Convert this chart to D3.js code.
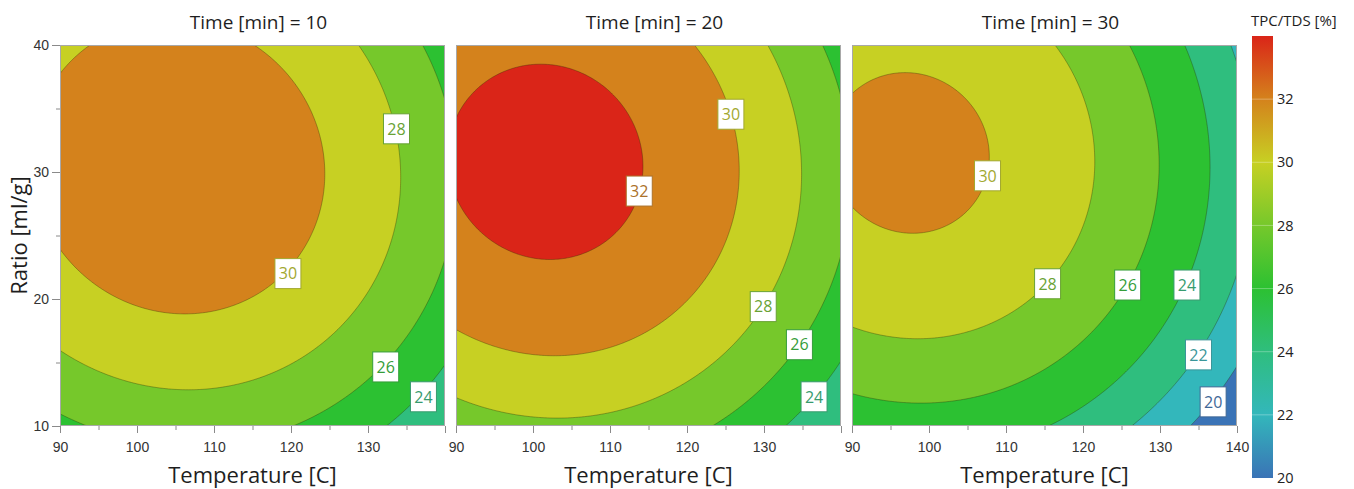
<!DOCTYPE html>
<html><head><meta charset="utf-8">
<script src="https://cdn.jsdelivr.net/npm/d3@7"></script>
<style>
html,body{margin:0;padding:0;background:#fff;}
svg{display:block;font-family:"Open Sans","Noto Sans",sans-serif;}
</style></head><body>
<svg id="chart" width="1354" height="489"></svg>
<script>
// ---------------- data ----------------
const times = [10, 20, 30];
const tempDomain = [90, 140];
const ratioDomain = [10, 40];
const tempTicks = [90, 95, 100, 105, 110, 115, 120, 125, 130, 135, 140];
const ratioTicks = [10, 15, 20, 25, 30, 35, 40];
const contourLevels = [20, 22, 24, 26, 28, 30, 32];
const colorStops = [20, 22, 24, 26, 28, 30, 32, 34];
const colorValues = ["#3a73b6", "#33b7bb", "#2fbe7e", "#2cc132", "#76c82b", "#c7d023", "#d4821c", "#da2518"];
const colorbarTicks = [20, 22, 24, 26, 28, 30, 32];
// fitted response surface (stationary point per time slice + curvature)
const optimumTemp = [105.3, 101.6, 97.4];
const optimumRatio = [30.4, 30.8, 31.5];
const optimumValue = [31.54, 32.68, 30.46];
const curvTT = 0.004235;   // per C^2
const curvRR = 0.011521;   // per (ml/g)^2
const curvTR = 0.000657;   // cross term
// contour labels
const labelLevels = [[28, 30, 26, 24], [30, 32, 28, 26, 24], [30, 28, 26, 24, 22, 20]];
const labelTemp = [[133.7, 119.6, 132.3, 137.2], [125.7, 113.8, 129.9, 134.6, 136.5], [107.6, 115.4, 125.8, 133.5, 135.0, 136.9]];
const labelRatio = [[33.4, 22.0, 14.65, 12.3], [34.55, 28.5, 19.4, 16.4, 12.3], [29.7, 21.2, 21.1, 21.1, 15.6, 11.9]];

// ---------------- layout ----------------
const panelLeft = [60, 456, 852];
const panelW = 385;
const plotTop = 45, plotBottom = 426;

const svg = d3.select("#chart");
const color = d3.scaleLinear().domain(colorStops).range(colorValues).interpolate(d3.interpolateRgb);
const labelColor = L => d3.interpolateRgb(color(L), "#4a4a4a")(0.3);

function surface(p, T, R) {
  const u = T - optimumTemp[p], v = R - optimumRatio[p];
  return optimumValue[p] - (curvTT * u * u + curvTR * u * v + curvRR * v * v);
}

const nx = 280, ny = 220;
const gT0 = tempDomain[0] - 3, gT1 = tempDomain[1] + 3;
const gR0 = ratioDomain[0] - 2, gR1 = ratioDomain[1] + 2;
const dT = (gT1 - gT0) / nx, dR = (gR1 - gR0) / ny;

times.forEach((t, p) => {
  const left = panelLeft[p];
  const xs = d3.scaleLinear().domain(tempDomain).range([left, left + panelW]);
  const ys = d3.scaleLinear().domain(ratioDomain).range([plotBottom, plotTop]);

  const values = new Array(nx * ny);
  for (let j = 0; j < ny; j++) for (let i = 0; i < nx; i++) {
    values[j * nx + i] = surface(p, gT0 + (i + 0.5) * dT, gR0 + (j + 0.5) * dR);
  }
  const contours = d3.contours().size([nx, ny]).thresholds(contourLevels)(values);
  const path = d3.geoPath(d3.geoTransform({
    point: function(x, y) { this.stream.point(xs(gT0 + x * dT), ys(gR0 + y * dR)); }
  }));

  const clipId = "clip" + p;
  svg.append("clipPath").attr("id", clipId).append("rect")
    .attr("x", xs(tempDomain[0])).attr("y", ys(ratioDomain[1]))
    .attr("width", xs(tempDomain[1]) - xs(tempDomain[0]))
    .attr("height", ys(ratioDomain[0]) - ys(ratioDomain[1]));

  const g = svg.append("g").attr("clip-path", `url(#${clipId})`);
  g.append("rect")
    .attr("x", xs(tempDomain[0])).attr("y", ys(ratioDomain[1]))
    .attr("width", xs(tempDomain[1]) - xs(tempDomain[0]))
    .attr("height", ys(ratioDomain[0]) - ys(ratioDomain[1]))
    .attr("fill", color(contourLevels[0]));
  g.selectAll("path.band").data(contours).join("path")
    .attr("class", "band")
    .attr("d", path)
    .attr("fill", d => color(d.value + 2))
    .attr("stroke", "rgba(40,40,10,0.38)")
    .attr("stroke-width", 0.9);

  // frame
  svg.append("rect")
    .attr("x", xs(tempDomain[0]) + 0.5).attr("y", ys(ratioDomain[1]) + 0.5)
    .attr("width", xs(tempDomain[1]) - xs(tempDomain[0]) - 1)
    .attr("height", ys(ratioDomain[0]) - ys(ratioDomain[1]) - 1)
    .attr("fill", "none").attr("stroke", "#a8a8a8").attr("stroke-width", 1);

  // contour labels
  const lab = svg.append("g").selectAll("g").data(labelLevels[p].map((L, k) => ({L, T: labelTemp[p][k], R: labelRatio[p][k]})))
    .join("g").attr("transform", d => `translate(${xs(d.T)},${ys(d.R)})`);
  lab.append("rect").attr("x", -13).attr("y", -15).attr("width", 26).attr("height", 30)
    .attr("fill", "#fff").attr("stroke", d => labelColor(d.L)).attr("stroke-width", 1);
  lab.append("text").attr("text-anchor", "middle").attr("dy", "0.36em")
    .attr("font-size", 16).attr("fill", d => labelColor(d.L)).text(d => d.L);

  // x axis: major + minor ticks
  const major = tempTicks.filter(v => v % 10 === 0);
  const minor = tempTicks.filter(v => v % 10 !== 0);
  const ax = svg.append("g").attr("transform", `translate(0,${plotBottom})`)
    .call(d3.axisBottom(xs).tickValues(major).tickSize(7).tickPadding(9)
      .tickFormat(v => (v === tempDomain[1] && p < times.length - 1) ? "" : v));
  ax.select(".domain").remove();
  ax.selectAll("line").attr("stroke", "#8a8a8a");
  ax.selectAll("text").attr("font-size", 14).attr("fill", "#333").attr("font-family", null);
  const axm = svg.append("g").attr("transform", `translate(0,${plotBottom})`)
    .call(d3.axisBottom(xs).tickValues(minor).tickSize(4).tickFormat(""));
  axm.select(".domain").remove();
  axm.selectAll("line").attr("stroke", "#8a8a8a");

  if (p === 0) {
    const ymaj = ratioTicks.filter(v => v % 10 === 0);
    const ymin = ratioTicks.filter(v => v % 10 !== 0);
    const ay = svg.append("g").attr("transform", `translate(${left},0)`)
      .call(d3.axisLeft(ys).tickValues(ymaj).tickSize(8).tickPadding(3));
    ay.select(".domain").remove();
    ay.selectAll("line").attr("stroke", "#8a8a8a");
    ay.selectAll("text").attr("font-size", 14).attr("fill", "#333").attr("font-family", null);
    const aym = svg.append("g").attr("transform", `translate(${left},0)`)
      .call(d3.axisLeft(ys).tickValues(ymin).tickSize(4).tickFormat(""));
    aym.select(".domain").remove();
    aym.selectAll("line").attr("stroke", "#8a8a8a");
    svg.append("text").attr("transform", `translate(27,${(plotTop + plotBottom) / 2}) rotate(-90)`)
      .attr("text-anchor", "middle").attr("font-size", 22).attr("fill", "#1e1e1e").text("Ratio [ml/g]");
  }

  svg.append("text").attr("x", left + panelW / 2 + 6).attr("y", 29)
    .attr("text-anchor", "middle").attr("font-size", 19).attr("fill", "#1e1e1e")
    .text(`Time [min] = ${t}`);
  svg.append("text").attr("x", left + panelW / 2).attr("y", 483)
    .attr("text-anchor", "middle").attr("font-size", 22).attr("fill", "#1e1e1e")
    .text("Temperature [C]");
});

// ---------------- colour bar ----------------
const cbX = 1252, cbW = 21, cbTop = 36, cbBottom = 478;
const cbScale = d3.scaleLinear().domain([colorStops[0], colorStops[colorStops.length - 1]]).range([cbBottom, cbTop]);
const grad = svg.append("defs").append("linearGradient").attr("id", "cbgrad")
  .attr("x1", 0).attr("y1", 1).attr("x2", 0).attr("y2", 0);
grad.selectAll("stop").data(colorStops).join("stop")
  .attr("offset", d => (d - colorStops[0]) / (colorStops[colorStops.length - 1] - colorStops[0]))
  .attr("stop-color", d => color(d));
svg.append("rect").attr("x", cbX).attr("y", cbTop).attr("width", cbW).attr("height", cbBottom - cbTop)
  .attr("fill", "url(#cbgrad)");
svg.append("g").selectAll("line").data(colorbarTicks.slice(1)).join("line")
  .attr("x1", cbX).attr("x2", cbX + cbW).attr("y1", d => cbScale(d)).attr("y2", d => cbScale(d))
  .attr("stroke", "rgba(255,255,255,0.3)").attr("stroke-width", 1);
svg.append("g").selectAll("text").data(colorbarTicks).join("text")
  .attr("x", cbX + cbW + 4).attr("y", d => cbScale(d)).attr("dy", "0.35em")
  .attr("font-size", 14.5).attr("fill", "#222").text(d => d);
svg.append("text").attr("x", 1251).attr("y", 26).attr("font-size", 15).attr("fill", "#1e1e1e")
  .text("TPC/TDS [%]");
</script>
</body></html>
